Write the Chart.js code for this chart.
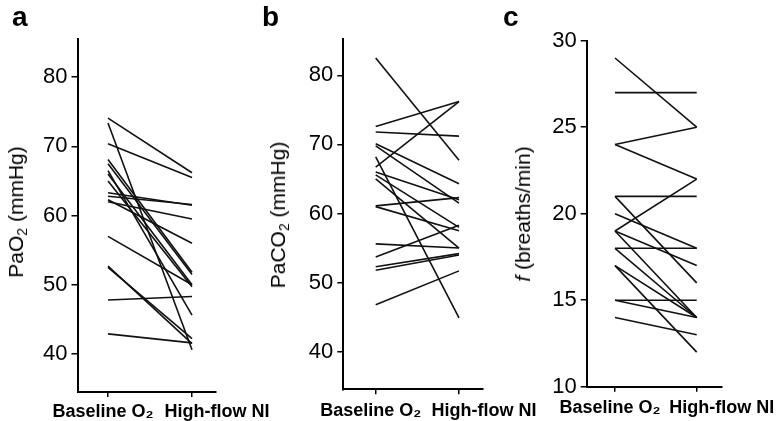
<!DOCTYPE html>
<html lang="en">
<head>
<meta charset="UTF-8">
<title>PaO2, PaCO2 and breathing frequency: baseline O2 vs high-flow NI</title>
<script src="https://cdn.jsdelivr.net/npm/chart.js"></script>
<style>
  body { margin: 0; background: #fff; font-family: "Liberation Sans", Arial, sans-serif; color: #000; }
  #figure { position: relative; width: 777px; height: 421px; overflow: hidden; }
  #figure canvas { position: absolute; top: 0; }
  .panel-letter { position: absolute; top: 3px; font-size: 28px; font-weight: bold; line-height: 28px; }
  .y-title { position: absolute; font-size: 21px; white-space: nowrap; line-height: 24px;
             transform: translate(-50%, -50%) rotate(-90deg); }
  .y-title sub { font-size: 14px; vertical-align: -4px; line-height: 0; }
</style>
</head>
<body>
<div id="figure">
  <canvas id="chartA" width="280" height="421" style="left:0px"></canvas>
  <canvas id="chartB" width="280" height="421" style="left:258px"></canvas>
  <canvas id="chartC" width="277" height="421" style="left:500px"></canvas>

  <div class="panel-letter" style="left:12px">a</div>
  <div class="panel-letter" style="left:262px">b</div>
  <div class="panel-letter" style="left:503px">c</div>

  <div class="y-title" style="left:16px; top:212px">PaO<sub>2</sub> (mmHg)</div>
  <div class="y-title" style="left:278px; top:215px">PaCO<sub>2</sub> (mmHg)</div>
  <div class="y-title" style="left:523px; top:214px"><i>f</i> (breaths/min)</div>
</div>

<script>
  const categories = ['Baseline O\u2082', 'High-flow NI'];

  // a: arterial O2 tension, one pair per patient
  const paO2Baseline = [74.1, 73.4, 70.4, 68.1, 67.5, 66.5, 66.0, 65.0, 63.3, 62.8, 62.3, 62.0, 57.0, 52.7, 52.5, 47.8, 42.9];
  const paO2HighFlow = [66.2, 40.6, 65.5, 51.8, 51.5, 45.6, 50.0, 49.7, 61.5, 61.6, 56.0, 59.5, 50.0, 41.5, 42.2, 48.3, 41.6];
  const paO2Ticks = [40, 50, 60, 70, 80];

  // b: arterial CO2 tension
  const paCO2Baseline = [82.5, 72.6, 71.8, 70.1, 69.8, 66.7, 68.2, 66.0, 65.6, 65.0, 61.1, 61.0, 55.6, 53.7, 52.3, 51.8, 46.8];
  const paCO2HighFlow = [67.7, 76.2, 71.2, 64.3, 61.5, 76.2, 44.9, 62.0, 58.0, 55.0, 62.3, 57.5, 55.0, 58.3, 54.2, 54.0, 51.7];
  const paCO2Ticks = [40, 50, 60, 70, 80];

  // c: breathing frequency
  const rateBaseline = [29, 27, 24, 24, 21, 21, 20, 19, 19, 19, 18, 18, 17, 17, 15, 15, 14];
  const rateHighFlow = [25, 27, 25, 22, 21, 16, 18, 22, 17, 14, 18, 14, 14, 12, 15, 14, 13];
  const rateTicks = [10, 15, 20, 25, 30];

  const FONT = "'Liberation Sans', Arial, sans-serif";
  const INK = '#000';
  const CANVAS_H = 421;
  const MARK_AXIS_H = 6;
  const LABEL_SHIFT = 10;

  // value range that puts 0 at pixel p0 and 1 at pixel p1 inside [left, right]
  function rangeFor(left, right, p0, p1) {
    const unit = p1 - p0;
    return { min: (left - p0) / unit, max: (right - p0) / unit };
  }

  function drawPanel(id, baseline, highFlow, yTicks, box) {
    const xr = rangeFor(box.left, box.right, box.tick0, box.tick1);
    const lr = rangeFor(box.left, box.right,
      box.tick0 - 5 - LABEL_SHIFT, box.tick1 + 25 - LABEL_SHIFT);

    const datasets = baseline.map((b, i) => ({
      data: [{ x: 0, y: b }, { x: 1, y: highFlow[i] }],
      borderColor: '#111',
      borderWidth: 1.6,
      pointRadius: 0,
      fill: false,
      xAxisID: 'x',
      yAxisID: 'y'
    }));

    return new Chart(document.getElementById(id), {
      type: 'line',
      data: { datasets },
      options: {
        responsive: false,
        animation: false,
        events: [],
        layout: {
          padding: { left: 0, top: box.top, bottom: 0, right: box.canvasLeft + box.canvasWidth - box.right }
        },
        plugins: { legend: { display: false }, tooltip: { enabled: false } },
        scales: {
          x: {
            type: 'linear', position: 'bottom', weight: 0,
            min: xr.min, max: xr.max,
            afterBuildTicks: s => { s.ticks = categories.map((c, i) => ({ value: i })); },
            afterFit: s => { s.height = MARK_AXIS_H; },
            ticks: { display: false },
            grid: { drawOnChartArea: false, drawTicks: true, tickLength: 5, color: INK, lineWidth: 1.5 },
            border: { display: true, color: INK, width: 2 }
          },
          xLabels: {
            type: 'linear', position: 'bottom', weight: 1,
            min: lr.min, max: lr.max,
            afterBuildTicks: s => { s.ticks = categories.map((c, i) => ({ value: i })); },
            afterFit: s => { s.height = CANVAS_H - box.bottom - MARK_AXIS_H; },
            ticks: {
              callback: (v, i) => categories[i],
              autoSkip: false, maxRotation: 0, minRotation: 0,
              labelOffset: LABEL_SHIFT, padding: box.labelPad,
              font: { family: FONT, size: 18, weight: 'bold' }, color: INK
            },
            grid: { display: false },
            border: { display: false }
          },
          y: {
            type: 'linear', min: box.yMin, max: box.yMax,
            afterBuildTicks: s => { s.ticks = yTicks.map(v => ({ value: v })); },
            afterFit: s => { s.width = box.left - box.canvasLeft; },
            ticks: { font: { family: FONT, size: 22 }, color: INK, padding: 4 },
            grid: { drawOnChartArea: false, tickLength: 6, color: INK, lineWidth: 1.5 },
            border: { color: INK, width: 2 }
          }
        }
      }
    });
  }

  drawPanel('chartA', paO2Baseline, paO2HighFlow, paO2Ticks, {
    canvasLeft: 0, canvasWidth: 280, left: 77.5, right: 216, top: 39.2, bottom: 392,
    tick0: 108, tick1: 192, yMin: 34.5, yMax: 85.5, labelPad: -5
  });
  drawPanel('chartB', paCO2Baseline, paCO2HighFlow, paCO2Ticks, {
    canvasLeft: 258, canvasWidth: 280, left: 343.3, right: 482.7, top: 39.4, bottom: 389.3,
    tick0: 375.7, tick1: 459, yMin: 34.56, yMax: 85.2, labelPad: -3
  });
  drawPanel('chartC', rateBaseline, rateHighFlow, rateTicks, {
    canvasLeft: 500, canvasWidth: 277, left: 586.7, right: 721.7, top: 40.7, bottom: 386.7,
    tick0: 615, tick1: 696.7, yMin: 10, yMax: 30, labelPad: -3
  });
</script>
</body>
</html>
